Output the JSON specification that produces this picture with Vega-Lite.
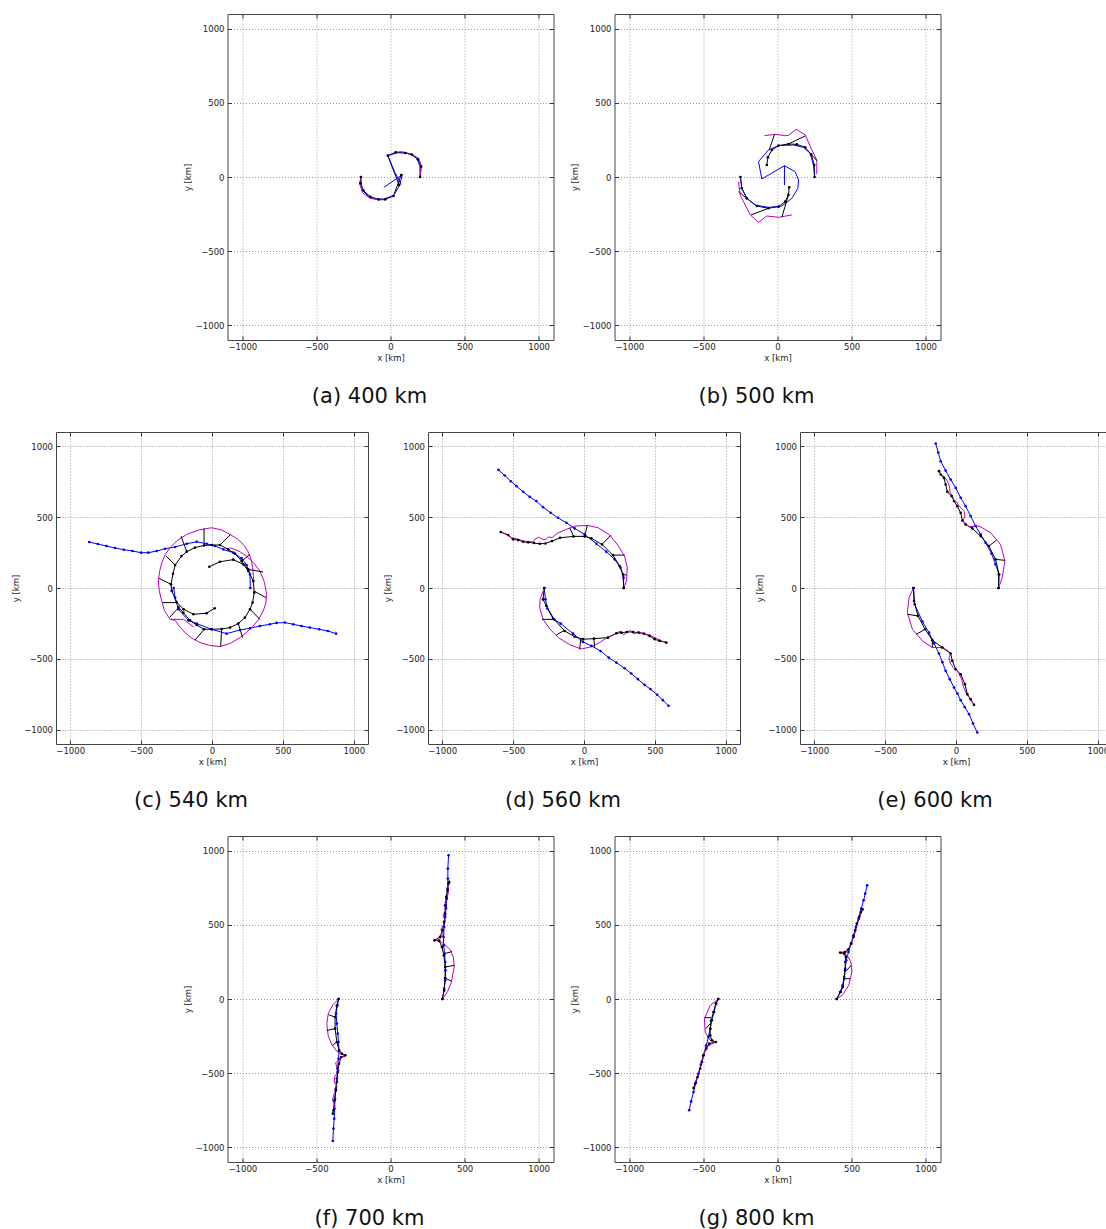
{
"$schema":"https://vega.github.io/schema/vega-lite/v6.json",
"background":"white",
"padding":{"left":11,"top":13,"right":0,"bottom":0},
"config":{
 "view":{"stroke":"#444","strokeWidth":1},
 "font":"DejaVu Sans",
 "axis":{"domain":false,"tickSize":-4,"tickColor":"#333","labelPadding":7.5,"labelFontSize":8.5,"titleFontSize":8.5,"titleFontWeight":"normal","gridColor":"#999","gridDash":[1,2],"gridWidth":1,"labelColor":"#222","titleColor":"#222","titlePadding":3,"labelFont":"DejaVu Sans","titleFont":"DejaVu Sans"},
 "title":{"fontSize":21,"fontWeight":"normal","font":"DejaVu Sans","color":"#111"}
},
"data":{"values":[
{"p":"a","k":"est","g":"a1","x":200,"y":0},{"p":"a","k":"est","g":"a1","x":207,"y":70},{"p":"a","k":"est","g":"a1","x":185,"y":119},{"p":"a","k":"est","g":"a1","x":144,"y":151},{"p":"a","k":"est","g":"a1","x":99,"y":162},{"p":"a","k":"est","g":"a1","x":36,"y":166},{"p":"a","k":"est","g":"a1","x":-18,"y":144},{"p":"a","k":"est","g":"a1","x":58,"y":-54},
{"p":"a","k":"est","g":"a2","x":-200,"y":0},{"p":"a","k":"est","g":"a2","x":-202,"y":-43},{"p":"a","k":"est","g":"a2","x":-182,"y":-92},{"p":"a","k":"est","g":"a2","x":-137,"y":-133},{"p":"a","k":"est","g":"a2","x":-81,"y":-151},{"p":"a","k":"est","g":"a2","x":-36,"y":-151},{"p":"a","k":"est","g":"a2","x":20,"y":-128},{"p":"a","k":"est","g":"a2","x":72,"y":13},
{"p":"a","k":"traj","g":"a3","x":200,"y":0},{"p":"a","k":"traj","g":"a3","x":198,"y":75},{"p":"a","k":"traj","g":"a3","x":180,"y":122},{"p":"a","k":"traj","g":"a3","x":140,"y":153},{"p":"a","k":"traj","g":"a3","x":90,"y":165},{"p":"a","k":"traj","g":"a3","x":40,"y":163},{"p":"a","k":"traj","g":"a3","x":-18,"y":144},{"p":"a","k":"traj","g":"a3","x":30,"y":30},{"p":"a","k":"traj","g":"a3","x":72,"y":-50},
{"p":"a","k":"traj","g":"a4","x":-200,"y":0},{"p":"a","k":"traj","g":"a4","x":-198,"y":-50},{"p":"a","k":"traj","g":"a4","x":-185,"y":-95},{"p":"a","k":"traj","g":"a4","x":-150,"y":-130},{"p":"a","k":"traj","g":"a4","x":-100,"y":-150},{"p":"a","k":"traj","g":"a4","x":-40,"y":-148},{"p":"a","k":"traj","g":"a4","x":20,"y":-125},{"p":"a","k":"traj","g":"a4","x":60,"y":-60},{"p":"a","k":"traj","g":"a4","x":80,"y":15},{"p":"a","k":"traj","g":"a4","x":-45,"y":-70},
{"p":"a","k":"env","g":"a5","x":200,"y":0},{"p":"a","k":"env","g":"a5","x":207,"y":81},{"p":"a","k":"env","g":"a5","x":189,"y":126},{"p":"a","k":"env","g":"a5","x":144,"y":155},{"p":"a","k":"env","g":"a5","x":76,"y":171},{"p":"a","k":"env","g":"a5","x":20,"y":166},
{"p":"a","k":"env","g":"a6","x":-200,"y":0},{"p":"a","k":"env","g":"a6","x":-209,"y":-43},{"p":"a","k":"env","g":"a6","x":-189,"y":-106},{"p":"a","k":"env","g":"a6","x":-137,"y":-144},{"p":"a","k":"env","g":"a6","x":-70,"y":-155},{"p":"a","k":"env","g":"a6","x":-25,"y":-151},

{"p":"b","k":"est","g":"b1","x":250,"y":0},{"p":"b","k":"est","g":"b1","x":248,"y":81},{"p":"b","k":"est","g":"b1","x":227,"y":153},{"p":"b","k":"est","g":"b1","x":187,"y":200},{"p":"b","k":"est","g":"b1","x":131,"y":220},{"p":"b","k":"est","g":"b1","x":74,"y":223},{"p":"b","k":"est","g":"b1","x":7,"y":212},{"p":"b","k":"est","g":"b1","x":-38,"y":182},{"p":"b","k":"est","g":"b1","x":-65,"y":133},{"p":"b","k":"est","g":"b1","x":-72,"y":81},
{"p":"b","k":"est","g":"b2","x":-250,"y":0},{"p":"b","k":"est","g":"b2","x":-241,"y":-76},{"p":"b","k":"est","g":"b2","x":-207,"y":-144},{"p":"b","k":"est","g":"b2","x":-139,"y":-196},{"p":"b","k":"est","g":"b2","x":-61,"y":-211},{"p":"b","k":"est","g":"b2","x":7,"y":-200},{"p":"b","k":"est","g":"b2","x":52,"y":-166},{"p":"b","k":"est","g":"b2","x":74,"y":-121},{"p":"b","k":"est","g":"b2","x":79,"y":-70},
{"p":"b","k":"traj","g":"b3","x":250,"y":0},{"p":"b","k":"traj","g":"b3","x":243,"y":81},{"p":"b","k":"traj","g":"b3","x":220,"y":160},{"p":"b","k":"traj","g":"b3","x":175,"y":200},{"p":"b","k":"traj","g":"b3","x":108,"y":216},{"p":"b","k":"traj","g":"b3","x":7,"y":212},{"p":"b","k":"traj","g":"b3","x":-61,"y":182},{"p":"b","k":"traj","g":"b3","x":-128,"y":104},{"p":"b","k":"traj","g":"b3","x":-106,"y":-13},{"p":"b","k":"traj","g":"b3","x":47,"y":76},{"p":"b","k":"traj","g":"b3","x":47,"y":-54},
{"p":"b","k":"traj","g":"b4","x":-250,"y":0},{"p":"b","k":"traj","g":"b4","x":-241,"y":-76},{"p":"b","k":"traj","g":"b4","x":-207,"y":-144},{"p":"b","k":"traj","g":"b4","x":-151,"y":-189},{"p":"b","k":"traj","g":"b4","x":-61,"y":-205},{"p":"b","k":"traj","g":"b4","x":29,"y":-196},{"p":"b","k":"traj","g":"b4","x":97,"y":-144},{"p":"b","k":"traj","g":"b4","x":137,"y":-77},{"p":"b","k":"traj","g":"b4","x":142,"y":-20},{"p":"b","k":"traj","g":"b4","x":119,"y":36},{"p":"b","k":"traj","g":"b4","x":47,"y":76},
{"p":"b","k":"env","g":"b5","x":-88,"y":279},{"p":"b","k":"env","g":"b5","x":-16,"y":288},{"p":"b","k":"env","g":"b5","x":52,"y":279},{"p":"b","k":"env","g":"b5","x":74,"y":281},{"p":"b","k":"env","g":"b5","x":126,"y":322},{"p":"b","k":"env","g":"b5","x":187,"y":284},{"p":"b","k":"env","g":"b5","x":232,"y":182},{"p":"b","k":"env","g":"b5","x":265,"y":115},{"p":"b","k":"env","g":"b5","x":265,"y":20},
{"p":"b","k":"env","g":"b6","x":-263,"y":-31},{"p":"b","k":"env","g":"b6","x":-252,"y":-122},{"p":"b","k":"env","g":"b6","x":-184,"y":-256},{"p":"b","k":"env","g":"b6","x":-128,"y":-306},{"p":"b","k":"env","g":"b6","x":-72,"y":-263},{"p":"b","k":"env","g":"b6","x":7,"y":-272},{"p":"b","k":"env","g":"b6","x":97,"y":-256},
{"p":"b","k":"link","g":"bw1","x":74,"y":223},{"p":"b","k":"link","g":"bw1","x":187,"y":277},
{"p":"b","k":"link","g":"bw2","x":-56,"y":182},{"p":"b","k":"link","g":"bw2","x":-20,"y":288},
{"p":"b","k":"link","g":"bw3","x":227,"y":153},{"p":"b","k":"link","g":"bw3","x":265,"y":110},
{"p":"b","k":"link","g":"bw4","x":-263,"y":-99},{"p":"b","k":"link","g":"bw4","x":-207,"y":-144},
{"p":"b","k":"link","g":"bw5","x":-178,"y":-256},{"p":"b","k":"link","g":"bw5","x":-61,"y":-211},
{"p":"b","k":"link","g":"bw6","x":29,"y":-272},{"p":"b","k":"link","g":"bw6","x":74,"y":-121},

{"p":"c","k":"traj","g":"c1","x":270,"y":0},{"p":"c","k":"traj","g":"c1","x":268,"y":96},{"p":"c","k":"traj","g":"c1","x":244,"y":162},{"p":"c","k":"traj","g":"c1","x":209,"y":209},{"p":"c","k":"traj","g":"c1","x":150,"y":249},{"p":"c","k":"traj","g":"c1","x":80,"y":272},{"p":"c","k":"traj","g":"c1","x":21,"y":296},{"p":"c","k":"traj","g":"c1","x":-38,"y":312},{"p":"c","k":"traj","g":"c1","x":-108,"y":326},{"p":"c","k":"traj","g":"c1","x":-178,"y":312},{"p":"c","k":"traj","g":"c1","x":-260,"y":289},{"p":"c","k":"traj","g":"c1","x":-331,"y":277},{"p":"c","k":"traj","g":"c1","x":-390,"y":261},{"p":"c","k":"traj","g":"c1","x":-448,"y":249},{"p":"c","k":"traj","g":"c1","x":-500,"y":249},{"p":"c","k":"traj","g":"c1","x":-561,"y":261},{"p":"c","k":"traj","g":"c1","x":-622,"y":270},{"p":"c","k":"traj","g":"c1","x":-683,"y":282},{"p":"c","k":"traj","g":"c1","x":-744,"y":296},{"p":"c","k":"traj","g":"c1","x":-805,"y":310},{"p":"c","k":"traj","g":"c1","x":-866,"y":324},
{"p":"c","k":"traj","g":"c2","x":-270,"y":0},{"p":"c","k":"traj","g":"c2","x":-260,"y":-68},{"p":"c","k":"traj","g":"c2","x":-237,"y":-150},{"p":"c","k":"traj","g":"c2","x":-167,"y":-228},{"p":"c","k":"traj","g":"c2","x":-108,"y":-251},{"p":"c","k":"traj","g":"c2","x":-2,"y":-291},{"p":"c","k":"traj","g":"c2","x":103,"y":-322},{"p":"c","k":"traj","g":"c2","x":197,"y":-296},{"p":"c","k":"traj","g":"c2","x":268,"y":-284},{"p":"c","k":"traj","g":"c2","x":338,"y":-268},{"p":"c","k":"traj","g":"c2","x":408,"y":-256},{"p":"c","k":"traj","g":"c2","x":455,"y":-246},{"p":"c","k":"traj","g":"c2","x":514,"y":-244},{"p":"c","k":"traj","g":"c2","x":573,"y":-256},{"p":"c","k":"traj","g":"c2","x":631,"y":-268},{"p":"c","k":"traj","g":"c2","x":690,"y":-279},{"p":"c","k":"traj","g":"c2","x":756,"y":-291},{"p":"c","k":"traj","g":"c2","x":817,"y":-303},{"p":"c","k":"traj","g":"c2","x":875,"y":-322},
{"p":"c","k":"est","g":"c3","x":-19,"y":150},{"p":"c","k":"est","g":"c3","x":56,"y":185},{"p":"c","k":"est","g":"c3","x":150,"y":200},{"p":"c","k":"est","g":"c3","x":221,"y":167},{"p":"c","k":"est","g":"c3","x":256,"y":120},{"p":"c","k":"est","g":"c3","x":291,"y":49},{"p":"c","k":"est","g":"c3","x":298,"y":-33},{"p":"c","k":"est","g":"c3","x":286,"y":-103},{"p":"c","k":"est","g":"c3","x":268,"y":-150},{"p":"c","k":"est","g":"c3","x":232,"y":-209},{"p":"c","k":"est","g":"c3","x":185,"y":-251},{"p":"c","k":"est","g":"c3","x":127,"y":-279},{"p":"c","k":"est","g":"c3","x":68,"y":-289},{"p":"c","k":"est","g":"c3","x":-2,"y":-291},{"p":"c","k":"est","g":"c3","x":-56,"y":-291},{"p":"c","k":"est","g":"c3","x":-108,"y":-261},{"p":"c","k":"est","g":"c3","x":-155,"y":-228},{"p":"c","k":"est","g":"c3","x":-202,"y":-174},{"p":"c","k":"est","g":"c3","x":-237,"y":-134},
{"p":"c","k":"est","g":"c4","x":19,"y":-143},{"p":"c","k":"est","g":"c4","x":-38,"y":-178},{"p":"c","k":"est","g":"c4","x":-131,"y":-185},{"p":"c","k":"est","g":"c4","x":-200,"y":-150},{"p":"c","k":"est","g":"c4","x":-250,"y":-100},{"p":"c","k":"est","g":"c4","x":-284,"y":-20},{"p":"c","k":"est","g":"c4","x":-289,"y":26},{"p":"c","k":"est","g":"c4","x":-275,"y":100},{"p":"c","k":"est","g":"c4","x":-260,"y":162},{"p":"c","k":"est","g":"c4","x":-215,"y":225},{"p":"c","k":"est","g":"c4","x":-178,"y":256},{"p":"c","k":"est","g":"c4","x":-120,"y":285},{"p":"c","k":"est","g":"c4","x":-56,"y":300},{"p":"c","k":"est","g":"c4","x":0,"y":303},{"p":"c","k":"est","g":"c4","x":56,"y":303},{"p":"c","k":"est","g":"c4","x":115,"y":272},{"p":"c","k":"est","g":"c4","x":162,"y":242},{"p":"c","k":"est","g":"c4","x":209,"y":190},{"p":"c","k":"est","g":"c4","x":256,"y":131},
{"p":"c","k":"env","g":"c5","x":-296,"y":-221},{"p":"c","k":"env","g":"c5","x":-335,"y":-160},{"p":"c","k":"env","g":"c5","x":-354,"y":-92},{"p":"c","k":"env","g":"c5","x":-372,"y":-20},{"p":"c","k":"env","g":"c5","x":-378,"y":49},{"p":"c","k":"env","g":"c5","x":-370,"y":115},{"p":"c","k":"env","g":"c5","x":-354,"y":178},{"p":"c","k":"env","g":"c5","x":-330,"y":235},{"p":"c","k":"env","g":"c5","x":-296,"y":284},{"p":"c","k":"env","g":"c5","x":-245,"y":335},{"p":"c","k":"env","g":"c5","x":-178,"y":378},{"p":"c","k":"env","g":"c5","x":-90,"y":410},{"p":"c","k":"env","g":"c5","x":-2,"y":425},{"p":"c","k":"env","g":"c5","x":65,"y":410},{"p":"c","k":"env","g":"c5","x":127,"y":378},{"p":"c","k":"env","g":"c5","x":180,"y":345},{"p":"c","k":"env","g":"c5","x":221,"y":307},{"p":"c","k":"env","g":"c5","x":250,"y":265},{"p":"c","k":"env","g":"c5","x":268,"y":225},{"p":"c","k":"env","g":"c5","x":280,"y":185},{"p":"c","k":"env","g":"c5","x":286,"y":143},{"p":"c","k":"env","g":"c5","x":292,"y":90},{"p":"c","k":"env","g":"c5","x":296,"y":38},
{"p":"c","k":"env","g":"c6","x":127,"y":284},{"p":"c","k":"env","g":"c6","x":190,"y":260},{"p":"c","k":"env","g":"c6","x":244,"y":225},{"p":"c","k":"env","g":"c6","x":295,"y":175},{"p":"c","k":"env","g":"c6","x":338,"y":120},{"p":"c","k":"env","g":"c6","x":370,"y":40},{"p":"c","k":"env","g":"c6","x":385,"y":-45},{"p":"c","k":"env","g":"c6","x":380,"y":-105},{"p":"c","k":"env","g":"c6","x":361,"y":-162},{"p":"c","k":"env","g":"c6","x":330,"y":-220},{"p":"c","k":"env","g":"c6","x":291,"y":-268},{"p":"c","k":"env","g":"c6","x":245,"y":-312},{"p":"c","k":"env","g":"c6","x":197,"y":-350},{"p":"c","k":"env","g":"c6","x":130,"y":-390},{"p":"c","k":"env","g":"c6","x":56,"y":-413},{"p":"c","k":"env","g":"c6","x":-15,"y":-405},{"p":"c","k":"env","g":"c6","x":-84,"y":-385},{"p":"c","k":"env","g":"c6","x":-140,"y":-355},{"p":"c","k":"env","g":"c6","x":-190,"y":-315},{"p":"c","k":"env","g":"c6","x":-230,"y":-270},{"p":"c","k":"env","g":"c6","x":-260,"y":-228},{"p":"c","k":"env","g":"c6","x":-296,"y":-221},{"p":"c","k":"env","g":"c6","x":-200,"y":-221},{"p":"c","k":"env","g":"c6","x":-130,"y":-275},
{"p":"c","k":"link","g":"cw1","x":-56,"y":420},{"p":"c","k":"link","g":"cw1","x":-56,"y":300},
{"p":"c","k":"link","g":"cw2","x":131,"y":378},{"p":"c","k":"link","g":"cw2","x":56,"y":303},
{"p":"c","k":"link","g":"cw3","x":-218,"y":366},{"p":"c","k":"link","g":"cw3","x":-178,"y":256},
{"p":"c","k":"link","g":"cw4","x":-324,"y":225},{"p":"c","k":"link","g":"cw4","x":-260,"y":162},
{"p":"c","k":"link","g":"cw5","x":-373,"y":68},{"p":"c","k":"link","g":"cw5","x":-289,"y":26},
{"p":"c","k":"link","g":"cw6","x":-347,"y":-103},{"p":"c","k":"link","g":"cw6","x":-244,"y":-103},
{"p":"c","k":"link","g":"cw7","x":-296,"y":-204},{"p":"c","k":"link","g":"cw7","x":-232,"y":-134},
{"p":"c","k":"link","g":"cw8","x":-120,"y":-368},{"p":"c","k":"link","g":"cw8","x":-56,"y":-291},
{"p":"c","k":"link","g":"cw9","x":61,"y":-413},{"p":"c","k":"link","g":"cw9","x":68,"y":-289},
{"p":"c","k":"link","g":"cw10","x":216,"y":-350},{"p":"c","k":"link","g":"cw10","x":185,"y":-251},
{"p":"c","k":"link","g":"cw11","x":338,"y":-221},{"p":"c","k":"link","g":"cw11","x":268,"y":-150},
{"p":"c","k":"link","g":"cw12","x":380,"y":-68},{"p":"c","k":"link","g":"cw12","x":296,"y":-21},
{"p":"c","k":"link","g":"cw13","x":361,"y":113},{"p":"c","k":"link","g":"cw13","x":256,"y":131},
{"p":"c","k":"link","g":"cw14","x":268,"y":237},{"p":"c","k":"link","g":"cw14","x":209,"y":190},

{"p":"d","k":"traj","g":"d1","x":280,"y":0},{"p":"d","k":"traj","g":"d1","x":279,"y":73},{"p":"d","k":"traj","g":"d1","x":258,"y":143},{"p":"d","k":"traj","g":"d1","x":216,"y":202},{"p":"d","k":"traj","g":"d1","x":157,"y":256},{"p":"d","k":"traj","g":"d1","x":87,"y":312},{"p":"d","k":"traj","g":"d1","x":5,"y":378},{"p":"d","k":"traj","g":"d1","x":-66,"y":420},{"p":"d","k":"traj","g":"d1","x":-124,"y":460},{"p":"d","k":"traj","g":"d1","x":-183,"y":495},{"p":"d","k":"traj","g":"d1","x":-235,"y":530},{"p":"d","k":"traj","g":"d1","x":-289,"y":570},{"p":"d","k":"traj","g":"d1","x":-336,"y":613},{"p":"d","k":"traj","g":"d1","x":-383,"y":643},{"p":"d","k":"traj","g":"d1","x":-429,"y":678},{"p":"d","k":"traj","g":"d1","x":-476,"y":718},{"p":"d","k":"traj","g":"d1","x":-516,"y":753},{"p":"d","k":"traj","g":"d1","x":-559,"y":793},{"p":"d","k":"traj","g":"d1","x":-603,"y":833},
{"p":"d","k":"traj","g":"d2","x":-280,"y":0},{"p":"d","k":"traj","g":"d2","x":-272,"y":-80},{"p":"d","k":"traj","g":"d2","x":-258,"y":-146},{"p":"d","k":"traj","g":"d2","x":-218,"y":-216},{"p":"d","k":"traj","g":"d2","x":-164,"y":-251},{"p":"d","k":"traj","g":"d2","x":-77,"y":-322},{"p":"d","k":"traj","g":"d2","x":-7,"y":-380},{"p":"d","k":"traj","g":"d2","x":52,"y":-408},{"p":"d","k":"traj","g":"d2","x":117,"y":-444},{"p":"d","k":"traj","g":"d2","x":174,"y":-491},{"p":"d","k":"traj","g":"d2","x":228,"y":-526},{"p":"d","k":"traj","g":"d2","x":286,"y":-566},{"p":"d","k":"traj","g":"d2","x":333,"y":-603},{"p":"d","k":"traj","g":"d2","x":380,"y":-643},{"p":"d","k":"traj","g":"d2","x":427,"y":-683},{"p":"d","k":"traj","g":"d2","x":469,"y":-713},{"p":"d","k":"traj","g":"d2","x":516,"y":-753},{"p":"d","k":"traj","g":"d2","x":556,"y":-791},{"p":"d","k":"traj","g":"d2","x":596,"y":-831},
{"p":"d","k":"est","g":"d3","x":280,"y":0},{"p":"d","k":"est","g":"d3","x":275,"y":96},{"p":"d","k":"est","g":"d3","x":251,"y":155},{"p":"d","k":"est","g":"d3","x":204,"y":232},{"p":"d","k":"est","g":"d3","x":127,"y":307},{"p":"d","k":"est","g":"d3","x":52,"y":350},{"p":"d","k":"est","g":"d3","x":5,"y":364},{"p":"d","k":"est","g":"d3","x":-73,"y":364},{"p":"d","k":"est","g":"d3","x":-169,"y":354},{"p":"d","k":"est","g":"d3","x":-225,"y":331},{"p":"d","k":"est","g":"d3","x":-272,"y":314},{"p":"d","k":"est","g":"d3","x":-312,"y":312},{"p":"d","k":"est","g":"d3","x":-352,"y":317},{"p":"d","k":"est","g":"d3","x":-394,"y":322},{"p":"d","k":"est","g":"d3","x":-429,"y":326},{"p":"d","k":"est","g":"d3","x":-465,"y":338},{"p":"d","k":"est","g":"d3","x":-500,"y":343},{"p":"d","k":"est","g":"d3","x":-535,"y":373},{"p":"d","k":"est","g":"d3","x":-587,"y":394},
{"p":"d","k":"est","g":"d4","x":-280,"y":0},{"p":"d","k":"est","g":"d4","x":-289,"y":-80},{"p":"d","k":"est","g":"d4","x":-265,"y":-127},{"p":"d","k":"est","g":"d4","x":-211,"y":-221},{"p":"d","k":"est","g":"d4","x":-136,"y":-303},{"p":"d","k":"est","g":"d4","x":-66,"y":-343},{"p":"d","k":"est","g":"d4","x":-7,"y":-361},{"p":"d","k":"est","g":"d4","x":70,"y":-357},{"p":"d","k":"est","g":"d4","x":169,"y":-350},{"p":"d","k":"est","g":"d4","x":228,"y":-319},{"p":"d","k":"est","g":"d4","x":263,"y":-315},{"p":"d","k":"est","g":"d4","x":303,"y":-310},{"p":"d","k":"est","g":"d4","x":345,"y":-310},{"p":"d","k":"est","g":"d4","x":385,"y":-315},{"p":"d","k":"est","g":"d4","x":422,"y":-322},{"p":"d","k":"est","g":"d4","x":462,"y":-338},{"p":"d","k":"est","g":"d4","x":498,"y":-361},{"p":"d","k":"est","g":"d4","x":533,"y":-373},{"p":"d","k":"est","g":"d4","x":580,"y":-385},
{"p":"d","k":"env","g":"d5","x":280,"y":0},{"p":"d","k":"env","g":"d5","x":300,"y":50},{"p":"d","k":"env","g":"d5","x":305,"y":143},{"p":"d","k":"env","g":"d5","x":286,"y":225},{"p":"d","k":"env","g":"d5","x":240,"y":300},{"p":"d","k":"env","g":"d5","x":180,"y":375},{"p":"d","k":"env","g":"d5","x":100,"y":425},{"p":"d","k":"env","g":"d5","x":28,"y":441},{"p":"d","k":"env","g":"d5","x":-60,"y":437},{"p":"d","k":"env","g":"d5","x":-130,"y":412},{"p":"d","k":"env","g":"d5","x":-190,"y":385},{"p":"d","k":"env","g":"d5","x":-225,"y":355},{"p":"d","k":"env","g":"d5","x":-250,"y":360},{"p":"d","k":"env","g":"d5","x":-272,"y":340},{"p":"d","k":"env","g":"d5","x":-295,"y":345},{"p":"d","k":"env","g":"d5","x":-320,"y":358},{"p":"d","k":"env","g":"d5","x":-345,"y":345},{"p":"d","k":"env","g":"d5","x":-360,"y":325},{"p":"d","k":"env","g":"d5","x":-420,"y":330},{"p":"d","k":"env","g":"d5","x":-470,"y":345},{"p":"d","k":"env","g":"d5","x":-510,"y":355},{"p":"d","k":"env","g":"d5","x":-545,"y":380},{"p":"d","k":"env","g":"d5","x":-590,"y":397},
{"p":"d","k":"env","g":"d6","x":-280,"y":0},{"p":"d","k":"env","g":"d6","x":-310,"y":-80},{"p":"d","k":"env","g":"d6","x":-312,"y":-140},{"p":"d","k":"env","g":"d6","x":-289,"y":-221},{"p":"d","k":"env","g":"d6","x":-240,"y":-290},{"p":"d","k":"env","g":"d6","x":-180,"y":-350},{"p":"d","k":"env","g":"d6","x":-100,"y":-400},{"p":"d","k":"env","g":"d6","x":-20,"y":-430},{"p":"d","k":"env","g":"d6","x":50,"y":-415},{"p":"d","k":"env","g":"d6","x":110,"y":-385},{"p":"d","k":"env","g":"d6","x":170,"y":-345},{"p":"d","k":"env","g":"d6","x":210,"y":-330},{"p":"d","k":"env","g":"d6","x":235,"y":-315},{"p":"d","k":"env","g":"d6","x":255,"y":-305},{"p":"d","k":"env","g":"d6","x":280,"y":-330},{"p":"d","k":"env","g":"d6","x":305,"y":-310},{"p":"d","k":"env","g":"d6","x":330,"y":-300},{"p":"d","k":"env","g":"d6","x":355,"y":-325},{"p":"d","k":"env","g":"d6","x":380,"y":-310},{"p":"d","k":"env","g":"d6","x":420,"y":-320},{"p":"d","k":"env","g":"d6","x":470,"y":-335},{"p":"d","k":"env","g":"d6","x":510,"y":-355},{"p":"d","k":"env","g":"d6","x":545,"y":-372},{"p":"d","k":"env","g":"d6","x":590,"y":-387},
{"p":"d","k":"link","g":"dw1","x":-101,"y":425},{"p":"d","k":"link","g":"dw1","x":-73,"y":364},
{"p":"d","k":"link","g":"dw2","x":23,"y":441},{"p":"d","k":"link","g":"dw2","x":5,"y":364},
{"p":"d","k":"link","g":"dw3","x":188,"y":371},{"p":"d","k":"link","g":"dw3","x":127,"y":307},
{"p":"d","k":"link","g":"dw4","x":286,"y":232},{"p":"d","k":"link","g":"dw4","x":204,"y":232},
{"p":"d","k":"link","g":"dw5","x":300,"y":90},{"p":"d","k":"link","g":"dw5","x":275,"y":96},
{"p":"d","k":"link","g":"dw6","x":-31,"y":-432},{"p":"d","k":"link","g":"dw6","x":-23,"y":-361},
{"p":"d","k":"link","g":"dw7","x":-195,"y":-331},{"p":"d","k":"link","g":"dw7","x":-136,"y":-298},
{"p":"d","k":"link","g":"dw8","x":-296,"y":-221},{"p":"d","k":"link","g":"dw8","x":-211,"y":-221},
{"p":"d","k":"link","g":"dw9","x":75,"y":-420},{"p":"d","k":"link","g":"dw9","x":70,"y":-357},

{"p":"e","k":"traj","g":"e1","x":300,"y":0},{"p":"e","k":"traj","g":"e1","x":303,"y":96},{"p":"e","k":"traj","g":"e1","x":279,"y":167},{"p":"e","k":"traj","g":"e1","x":251,"y":242},{"p":"e","k":"traj","g":"e1","x":209,"y":319},{"p":"e","k":"traj","g":"e1","x":174,"y":378},{"p":"e","k":"traj","g":"e1","x":138,"y":437},{"p":"e","k":"traj","g":"e1","x":103,"y":507},{"p":"e","k":"traj","g":"e1","x":68,"y":577},{"p":"e","k":"traj","g":"e1","x":33,"y":636},{"p":"e","k":"traj","g":"e1","x":-2,"y":706},{"p":"e","k":"traj","g":"e1","x":-38,"y":765},{"p":"e","k":"traj","g":"e1","x":-73,"y":828},{"p":"e","k":"traj","g":"e1","x":-108,"y":894},{"p":"e","k":"traj","g":"e1","x":-125,"y":955},{"p":"e","k":"traj","g":"e1","x":-143,"y":1019},
{"p":"e","k":"traj","g":"e2","x":-300,"y":0},{"p":"e","k":"traj","g":"e2","x":-291,"y":-115},{"p":"e","k":"traj","g":"e2","x":-237,"y":-237},{"p":"e","k":"traj","g":"e2","x":-190,"y":-315},{"p":"e","k":"traj","g":"e2","x":-155,"y":-390},{"p":"e","k":"traj","g":"e2","x":-120,"y":-462},{"p":"e","k":"traj","g":"e2","x":-96,"y":-523},{"p":"e","k":"traj","g":"e2","x":-73,"y":-584},{"p":"e","k":"traj","g":"e2","x":-44,"y":-643},{"p":"e","k":"traj","g":"e2","x":-14,"y":-702},{"p":"e","k":"traj","g":"e2","x":10,"y":-745},{"p":"e","k":"traj","g":"e2","x":33,"y":-791},{"p":"e","k":"traj","g":"e2","x":62,"y":-840},{"p":"e","k":"traj","g":"e2","x":92,"y":-890},{"p":"e","k":"traj","g":"e2","x":120,"y":-955},{"p":"e","k":"traj","g":"e2","x":150,"y":-1019},
{"p":"e","k":"est","g":"e3","x":300,"y":0},{"p":"e","k":"est","g":"e3","x":303,"y":96},{"p":"e","k":"est","g":"e3","x":279,"y":202},{"p":"e","k":"est","g":"e3","x":232,"y":296},{"p":"e","k":"est","g":"e3","x":174,"y":366},{"p":"e","k":"est","g":"e3","x":115,"y":420},{"p":"e","k":"est","g":"e3","x":68,"y":448},{"p":"e","k":"est","g":"e3","x":45,"y":476},{"p":"e","k":"est","g":"e3","x":33,"y":530},{"p":"e","k":"est","g":"e3","x":9,"y":577},{"p":"e","k":"est","g":"e3","x":-14,"y":613},{"p":"e","k":"est","g":"e3","x":-31,"y":648},{"p":"e","k":"est","g":"e3","x":-61,"y":678},{"p":"e","k":"est","g":"e3","x":-73,"y":730},{"p":"e","k":"est","g":"e3","x":-85,"y":777},{"p":"e","k":"est","g":"e3","x":-108,"y":800},{"p":"e","k":"est","g":"e3","x":-120,"y":824},
{"p":"e","k":"est","g":"e4","x":-300,"y":0},{"p":"e","k":"est","g":"e4","x":-296,"y":-92},{"p":"e","k":"est","g":"e4","x":-268,"y":-197},{"p":"e","k":"est","g":"e4","x":-218,"y":-291},{"p":"e","k":"est","g":"e4","x":-167,"y":-368},{"p":"e","k":"est","g":"e4","x":-96,"y":-420},{"p":"e","k":"est","g":"e4","x":-38,"y":-462},{"p":"e","k":"est","g":"e4","x":-26,"y":-514},{"p":"e","k":"est","g":"e4","x":-2,"y":-573},{"p":"e","k":"est","g":"e4","x":33,"y":-608},{"p":"e","k":"est","g":"e4","x":63,"y":-678},{"p":"e","k":"est","g":"e4","x":80,"y":-749},{"p":"e","k":"est","g":"e4","x":103,"y":-784},{"p":"e","k":"est","g":"e4","x":127,"y":-824},
{"p":"e","k":"env","g":"e5","x":300,"y":0},{"p":"e","k":"env","g":"e5","x":326,"y":73},{"p":"e","k":"env","g":"e5","x":345,"y":190},{"p":"e","k":"env","g":"e5","x":314,"y":307},{"p":"e","k":"env","g":"e5","x":244,"y":390},{"p":"e","k":"env","g":"e5","x":162,"y":437},{"p":"e","k":"env","g":"e5","x":92,"y":432},{"p":"e","k":"env","g":"e5","x":45,"y":476},{"p":"e","k":"env","g":"e5","x":62,"y":500},{"p":"e","k":"env","g":"e5","x":60,"y":540},{"p":"e","k":"env","g":"e5","x":40,"y":560},{"p":"e","k":"env","g":"e5","x":20,"y":580},{"p":"e","k":"env","g":"e5","x":5,"y":605},{"p":"e","k":"env","g":"e5","x":-14,"y":615},{"p":"e","k":"env","g":"e5","x":-25,"y":650},{"p":"e","k":"env","g":"e5","x":-40,"y":670},{"p":"e","k":"env","g":"e5","x":-45,"y":700},{"p":"e","k":"env","g":"e5","x":-50,"y":730},{"p":"e","k":"env","g":"e5","x":-65,"y":760},{"p":"e","k":"env","g":"e5","x":-85,"y":785},{"p":"e","k":"env","g":"e5","x":-108,"y":805},{"p":"e","k":"env","g":"e5","x":-120,"y":824},
{"p":"e","k":"env","g":"e6","x":-300,"y":0},{"p":"e","k":"env","g":"e6","x":-331,"y":-68},{"p":"e","k":"env","g":"e6","x":-343,"y":-174},{"p":"e","k":"env","g":"e6","x":-307,"y":-291},{"p":"e","k":"env","g":"e6","x":-237,"y":-373},{"p":"e","k":"env","g":"e6","x":-167,"y":-420},{"p":"e","k":"env","g":"e6","x":-96,"y":-420},{"p":"e","k":"env","g":"e6","x":-60,"y":-440},{"p":"e","k":"env","g":"e6","x":-38,"y":-462},{"p":"e","k":"env","g":"e6","x":-50,"y":-490},{"p":"e","k":"env","g":"e6","x":-40,"y":-530},{"p":"e","k":"env","g":"e6","x":-20,"y":-560},{"p":"e","k":"env","g":"e6","x":0,"y":-580},{"p":"e","k":"env","g":"e6","x":20,"y":-600},{"p":"e","k":"env","g":"e6","x":33,"y":-630},{"p":"e","k":"env","g":"e6","x":45,"y":-660},{"p":"e","k":"env","g":"e6","x":50,"y":-690},{"p":"e","k":"env","g":"e6","x":63,"y":-720},{"p":"e","k":"env","g":"e6","x":75,"y":-750},{"p":"e","k":"env","g":"e6","x":95,"y":-775},{"p":"e","k":"env","g":"e6","x":110,"y":-800},{"p":"e","k":"env","g":"e6","x":127,"y":-824},
{"p":"e","k":"link","g":"ew1","x":284,"y":336},{"p":"e","k":"link","g":"ew1","x":232,"y":296},
{"p":"e","k":"link","g":"ew2","x":345,"y":195},{"p":"e","k":"link","g":"ew2","x":279,"y":202},
{"p":"e","k":"link","g":"ew3","x":-343,"y":-185},{"p":"e","k":"link","g":"ew3","x":-268,"y":-197},
{"p":"e","k":"link","g":"ew4","x":-279,"y":-326},{"p":"e","k":"link","g":"ew4","x":-218,"y":-291},
{"p":"e","k":"link","g":"ew5","x":-167,"y":-420},{"p":"e","k":"link","g":"ew5","x":-167,"y":-368},

{"p":"f","k":"traj","g":"f1","x":350,"y":0},{"p":"f","k":"traj","g":"f1","x":362,"y":70},{"p":"f","k":"traj","g":"f1","x":369,"y":126},{"p":"f","k":"traj","g":"f1","x":371,"y":194},{"p":"f","k":"traj","g":"f1","x":369,"y":250},{"p":"f","k":"traj","g":"f1","x":365,"y":306},{"p":"f","k":"traj","g":"f1","x":358,"y":362},{"p":"f","k":"traj","g":"f1","x":358,"y":419},{"p":"f","k":"traj","g":"f1","x":362,"y":486},{"p":"f","k":"traj","g":"f1","x":369,"y":554},{"p":"f","k":"traj","g":"f1","x":374,"y":610},{"p":"f","k":"traj","g":"f1","x":380,"y":677},{"p":"f","k":"traj","g":"f1","x":385,"y":745},{"p":"f","k":"traj","g":"f1","x":387,"y":812},{"p":"f","k":"traj","g":"f1","x":387,"y":880},{"p":"f","k":"traj","g":"f1","x":392,"y":970},
{"p":"f","k":"traj","g":"f2","x":-350,"y":0},{"p":"f","k":"traj","g":"f2","x":-358,"y":-43},{"p":"f","k":"traj","g":"f2","x":-367,"y":-99},{"p":"f","k":"traj","g":"f2","x":-362,"y":-166},{"p":"f","k":"traj","g":"f2","x":-356,"y":-234},{"p":"f","k":"traj","g":"f2","x":-351,"y":-290},{"p":"f","k":"traj","g":"f2","x":-347,"y":-347},{"p":"f","k":"traj","g":"f2","x":-351,"y":-403},{"p":"f","k":"traj","g":"f2","x":-358,"y":-470},{"p":"f","k":"traj","g":"f2","x":-362,"y":-538},{"p":"f","k":"traj","g":"f2","x":-369,"y":-605},{"p":"f","k":"traj","g":"f2","x":-374,"y":-673},{"p":"f","k":"traj","g":"f2","x":-378,"y":-740},{"p":"f","k":"traj","g":"f2","x":-380,"y":-808},{"p":"f","k":"traj","g":"f2","x":-385,"y":-875},{"p":"f","k":"traj","g":"f2","x":-389,"y":-958},
{"p":"f","k":"est","g":"f3","x":350,"y":0},{"p":"f","k":"est","g":"f3","x":362,"y":58},{"p":"f","k":"est","g":"f3","x":369,"y":142},{"p":"f","k":"est","g":"f3","x":369,"y":216},{"p":"f","k":"est","g":"f3","x":360,"y":295},{"p":"f","k":"est","g":"f3","x":347,"y":351},{"p":"f","k":"est","g":"f3","x":329,"y":392},{"p":"f","k":"est","g":"f3","x":297,"y":396},{"p":"f","k":"est","g":"f3","x":335,"y":419},{"p":"f","k":"est","g":"f3","x":351,"y":464},{"p":"f","k":"est","g":"f3","x":362,"y":520},{"p":"f","k":"est","g":"f3","x":369,"y":576},{"p":"f","k":"est","g":"f3","x":369,"y":632},{"p":"f","k":"est","g":"f3","x":376,"y":689},{"p":"f","k":"est","g":"f3","x":385,"y":734},{"p":"f","k":"est","g":"f3","x":392,"y":779},{"p":"f","k":"est","g":"f3","x":396,"y":790},
{"p":"f","k":"est","g":"f4","x":-350,"y":0},{"p":"f","k":"est","g":"f4","x":-362,"y":-43},{"p":"f","k":"est","g":"f4","x":-374,"y":-122},{"p":"f","k":"est","g":"f4","x":-374,"y":-200},{"p":"f","k":"est","g":"f4","x":-362,"y":-290},{"p":"f","k":"est","g":"f4","x":-347,"y":-347},{"p":"f","k":"est","g":"f4","x":-329,"y":-369},{"p":"f","k":"est","g":"f4","x":-306,"y":-380},{"p":"f","k":"est","g":"f4","x":-333,"y":-392},{"p":"f","k":"est","g":"f4","x":-347,"y":-437},{"p":"f","k":"est","g":"f4","x":-356,"y":-493},{"p":"f","k":"est","g":"f4","x":-362,"y":-560},{"p":"f","k":"est","g":"f4","x":-369,"y":-617},{"p":"f","k":"est","g":"f4","x":-378,"y":-684},{"p":"f","k":"est","g":"f4","x":-385,"y":-751},{"p":"f","k":"est","g":"f4","x":-389,"y":-774},
{"p":"f","k":"env","g":"f5","x":350,"y":0},{"p":"f","k":"env","g":"f5","x":385,"y":50},{"p":"f","k":"env","g":"f5","x":410,"y":110},{"p":"f","k":"env","g":"f5","x":430,"y":216},{"p":"f","k":"env","g":"f5","x":425,"y":280},{"p":"f","k":"env","g":"f5","x":405,"y":330},{"p":"f","k":"env","g":"f5","x":370,"y":365},{"p":"f","k":"env","g":"f5","x":330,"y":390},{"p":"f","k":"env","g":"f5","x":297,"y":396},{"p":"f","k":"env","g":"f5","x":330,"y":400},{"p":"f","k":"env","g":"f5","x":355,"y":440},{"p":"f","k":"env","g":"f5","x":340,"y":470},{"p":"f","k":"env","g":"f5","x":358,"y":500},{"p":"f","k":"env","g":"f5","x":370,"y":530},{"p":"f","k":"env","g":"f5","x":355,"y":560},{"p":"f","k":"env","g":"f5","x":370,"y":600},{"p":"f","k":"env","g":"f5","x":380,"y":620},{"p":"f","k":"env","g":"f5","x":368,"y":650},{"p":"f","k":"env","g":"f5","x":383,"y":690},{"p":"f","k":"env","g":"f5","x":392,"y":720},{"p":"f","k":"env","g":"f5","x":385,"y":750},{"p":"f","k":"env","g":"f5","x":396,"y":790},
{"p":"f","k":"env","g":"f6","x":-350,"y":0},{"p":"f","k":"env","g":"f6","x":-390,"y":-40},{"p":"f","k":"env","g":"f6","x":-420,"y":-100},{"p":"f","k":"env","g":"f6","x":-430,"y":-166},{"p":"f","k":"env","g":"f6","x":-420,"y":-250},{"p":"f","k":"env","g":"f6","x":-395,"y":-310},{"p":"f","k":"env","g":"f6","x":-360,"y":-355},{"p":"f","k":"env","g":"f6","x":-329,"y":-369},{"p":"f","k":"env","g":"f6","x":-295,"y":-380},{"p":"f","k":"env","g":"f6","x":-330,"y":-395},{"p":"f","k":"env","g":"f6","x":-370,"y":-430},{"p":"f","k":"env","g":"f6","x":-360,"y":-470},{"p":"f","k":"env","g":"f6","x":-345,"y":-480},{"p":"f","k":"env","g":"f6","x":-375,"y":-520},{"p":"f","k":"env","g":"f6","x":-380,"y":-560},{"p":"f","k":"env","g":"f6","x":-360,"y":-590},{"p":"f","k":"env","g":"f6","x":-380,"y":-640},{"p":"f","k":"env","g":"f6","x":-392,"y":-680},{"p":"f","k":"env","g":"f6","x":-375,"y":-720},{"p":"f","k":"env","g":"f6","x":-385,"y":-760},{"p":"f","k":"env","g":"f6","x":-389,"y":-774},
{"p":"f","k":"link","g":"fw1","x":365,"y":306},{"p":"f","k":"link","g":"fw1","x":414,"y":320},
{"p":"f","k":"link","g":"fw2","x":369,"y":216},{"p":"f","k":"link","g":"fw2","x":430,"y":227},
{"p":"f","k":"link","g":"fw3","x":369,"y":142},{"p":"f","k":"link","g":"fw3","x":412,"y":119},
{"p":"f","k":"link","g":"fw4","x":-374,"y":-122},{"p":"f","k":"link","g":"fw4","x":-418,"y":-106},
{"p":"f","k":"link","g":"fw5","x":-374,"y":-200},{"p":"f","k":"link","g":"fw5","x":-430,"y":-212},
{"p":"f","k":"link","g":"fw6","x":-362,"y":-290},{"p":"f","k":"link","g":"fw6","x":-391,"y":-313},

{"p":"g","k":"traj","g":"g1","x":400,"y":0},{"p":"g","k":"traj","g":"g1","x":423,"y":47},{"p":"g","k":"traj","g":"g1","x":439,"y":92},{"p":"g","k":"traj","g":"g1","x":450,"y":149},{"p":"g","k":"traj","g":"g1","x":457,"y":205},{"p":"g","k":"traj","g":"g1","x":464,"y":261},{"p":"g","k":"traj","g":"g1","x":479,"y":317},{"p":"g","k":"traj","g":"g1","x":497,"y":374},{"p":"g","k":"traj","g":"g1","x":513,"y":430},{"p":"g","k":"traj","g":"g1","x":529,"y":486},{"p":"g","k":"traj","g":"g1","x":547,"y":542},{"p":"g","k":"traj","g":"g1","x":565,"y":610},{"p":"g","k":"traj","g":"g1","x":581,"y":666},{"p":"g","k":"traj","g":"g1","x":592,"y":711},{"p":"g","k":"traj","g":"g1","x":605,"y":767},
{"p":"g","k":"traj","g":"g2","x":-400,"y":0},{"p":"g","k":"traj","g":"g2","x":-414,"y":-31},{"p":"g","k":"traj","g":"g2","x":-428,"y":-88},{"p":"g","k":"traj","g":"g2","x":-443,"y":-144},{"p":"g","k":"traj","g":"g2","x":-454,"y":-200},{"p":"g","k":"traj","g":"g2","x":-466,"y":-256},{"p":"g","k":"traj","g":"g2","x":-481,"y":-313},{"p":"g","k":"traj","g":"g2","x":-500,"y":-380},{"p":"g","k":"traj","g":"g2","x":-517,"y":-443},{"p":"g","k":"traj","g":"g2","x":-533,"y":-504},{"p":"g","k":"traj","g":"g2","x":-551,"y":-565},{"p":"g","k":"traj","g":"g2","x":-567,"y":-628},{"p":"g","k":"traj","g":"g2","x":-583,"y":-691},{"p":"g","k":"traj","g":"g2","x":-596,"y":-751},
{"p":"g","k":"est","g":"g3","x":400,"y":0},{"p":"g","k":"est","g":"g3","x":425,"y":47},{"p":"g","k":"est","g":"g3","x":441,"y":81},{"p":"g","k":"est","g":"g3","x":450,"y":137},{"p":"g","k":"est","g":"g3","x":457,"y":194},{"p":"g","k":"est","g":"g3","x":457,"y":250},{"p":"g","k":"est","g":"g3","x":461,"y":284},{"p":"g","k":"est","g":"g3","x":450,"y":306},{"p":"g","k":"est","g":"g3","x":423,"y":313},{"p":"g","k":"est","g":"g3","x":457,"y":317},{"p":"g","k":"est","g":"g3","x":479,"y":335},{"p":"g","k":"est","g":"g3","x":497,"y":374},{"p":"g","k":"est","g":"g3","x":513,"y":419},{"p":"g","k":"est","g":"g3","x":524,"y":464},{"p":"g","k":"est","g":"g3","x":535,"y":509},{"p":"g","k":"est","g":"g3","x":551,"y":554},{"p":"g","k":"est","g":"g3","x":562,"y":587},{"p":"g","k":"est","g":"g3","x":574,"y":605},
{"p":"g","k":"est","g":"g4","x":-400,"y":0},{"p":"g","k":"est","g":"g4","x":-416,"y":-31},{"p":"g","k":"est","g":"g4","x":-432,"y":-88},{"p":"g","k":"est","g":"g4","x":-448,"y":-144},{"p":"g","k":"est","g":"g4","x":-454,"y":-200},{"p":"g","k":"est","g":"g4","x":-454,"y":-245},{"p":"g","k":"est","g":"g4","x":-443,"y":-279},{"p":"g","k":"est","g":"g4","x":-416,"y":-290},{"p":"g","k":"est","g":"g4","x":-461,"y":-301},{"p":"g","k":"est","g":"g4","x":-481,"y":-335},{"p":"g","k":"est","g":"g4","x":-500,"y":-380},{"p":"g","k":"est","g":"g4","x":-511,"y":-425},{"p":"g","k":"est","g":"g4","x":-522,"y":-470},{"p":"g","k":"est","g":"g4","x":-540,"y":-527},{"p":"g","k":"est","g":"g4","x":-556,"y":-572},{"p":"g","k":"est","g":"g4","x":-567,"y":-601},
{"p":"g","k":"env","g":"g5","x":400,"y":0},{"p":"g","k":"env","g":"g5","x":440,"y":30},{"p":"g","k":"env","g":"g5","x":480,"y":90},{"p":"g","k":"env","g":"g5","x":502,"y":182},{"p":"g","k":"env","g":"g5","x":495,"y":250},{"p":"g","k":"env","g":"g5","x":470,"y":295},{"p":"g","k":"env","g":"g5","x":423,"y":313},{"p":"g","k":"env","g":"g5","x":460,"y":320},{"p":"g","k":"env","g":"g5","x":485,"y":345},{"p":"g","k":"env","g":"g5","x":495,"y":380},{"p":"g","k":"env","g":"g5","x":515,"y":420},{"p":"g","k":"env","g":"g5","x":530,"y":470},{"p":"g","k":"env","g":"g5","x":540,"y":510},{"p":"g","k":"env","g":"g5","x":555,"y":550},{"p":"g","k":"env","g":"g5","x":574,"y":605},
{"p":"g","k":"env","g":"g6","x":-400,"y":0},{"p":"g","k":"env","g":"g6","x":-454,"y":-43},{"p":"g","k":"env","g":"g6","x":-493,"y":-133},{"p":"g","k":"env","g":"g6","x":-488,"y":-223},{"p":"g","k":"env","g":"g6","x":-454,"y":-279},{"p":"g","k":"env","g":"g6","x":-416,"y":-290},{"p":"g","k":"env","g":"g6","x":-445,"y":-305},{"p":"g","k":"env","g":"g6","x":-470,"y":-320},{"p":"g","k":"env","g":"g6","x":-490,"y":-350},{"p":"g","k":"env","g":"g6","x":-500,"y":-390},{"p":"g","k":"env","g":"g6","x":-510,"y":-430},{"p":"g","k":"env","g":"g6","x":-525,"y":-470},{"p":"g","k":"env","g":"g6","x":-540,"y":-520},{"p":"g","k":"env","g":"g6","x":-556,"y":-565},{"p":"g","k":"env","g":"g6","x":-567,"y":-601},
{"p":"g","k":"link","g":"gw1","x":457,"y":137},{"p":"g","k":"link","g":"gw1","x":490,"y":137},
{"p":"g","k":"link","g":"gw2","x":468,"y":194},{"p":"g","k":"link","g":"gw2","x":497,"y":227},
{"p":"g","k":"link","g":"gw3","x":-493,"y":-126},{"p":"g","k":"link","g":"gw3","x":-448,"y":-126},
{"p":"g","k":"link","g":"gw4","x":-484,"y":-200},{"p":"g","k":"link","g":"gw4","x":-454,"y":-166}
]},
"vconcat":[
 {"hconcat":[
  {"width":326,"height":326,"transform":[{"filter":"datum.p=='a'"}],"title":{"text":"(a) 400 km","orient":"bottom","offset":24,"dx":-21},"resolve":{"axis":{"x":"independent","y":"independent"}},
   "layer":[
    {"mark":{"type":"line","strokeWidth":1,"clip":true},"encoding":{"x":{"field":"x","type":"quantitative","scale":{"domain":[-1100,1100],"nice":false,"zero":false},"axis":{"values":[-1000,-500,0,500,1000],"format":"d","title":"x [km]","labelPadding":6}},"y":{"field":"y","type":"quantitative","scale":{"domain":[-1100,1100],"nice":false,"zero":false},"axis":{"values":[-1000,-500,0,500,1000],"format":"d","title":"y [km]"}},"detail":{"field":"g"},"order":{"value":null},"color":{"field":"k","type":"nominal","scale":{"domain":["traj","est","env","link"],"range":["#0000ff","#000000","#bf00bf","#000000"]},"legend":null}}},
    {"transform":[{"filter":"datum.k=='est'"}],"mark":{"type":"point","filled":true,"size":7,"opacity":1,"clip":true},"encoding":{"x":{"field":"x","type":"quantitative","scale":{"domain":[-1100,1100],"nice":false,"zero":false},"axis":{"orient":"top","values":[-1000,-500,0,500,1000],"labels":false,"title":null,"grid":false}},"y":{"field":"y","type":"quantitative","scale":{"domain":[-1100,1100],"nice":false,"zero":false},"axis":{"orient":"right","values":[-1000,-500,0,500,1000],"labels":false,"title":null,"grid":false}},"color":{"field":"k","type":"nominal","scale":{"domain":["traj","est","env","link"],"range":["#0000ff","#000000","#bf00bf","#000000"]},"legend":null}}}
   ]},
  {"width":326,"height":326,"transform":[{"filter":"datum.p=='b'"}],"title":{"text":"(b) 500 km","orient":"bottom","offset":24,"dx":-21},"resolve":{"axis":{"x":"independent","y":"independent"}},
   "layer":[
    {"mark":{"type":"line","strokeWidth":1,"clip":true},"encoding":{"x":{"field":"x","type":"quantitative","scale":{"domain":[-1100,1100],"nice":false,"zero":false},"axis":{"values":[-1000,-500,0,500,1000],"format":"d","title":"x [km]","labelPadding":6}},"y":{"field":"y","type":"quantitative","scale":{"domain":[-1100,1100],"nice":false,"zero":false},"axis":{"values":[-1000,-500,0,500,1000],"format":"d","title":"y [km]"}},"detail":{"field":"g"},"order":{"value":null},"color":{"field":"k","type":"nominal","scale":{"domain":["traj","est","env","link"],"range":["#0000ff","#000000","#bf00bf","#000000"]},"legend":null}}},
    {"transform":[{"filter":"datum.k=='est'"}],"mark":{"type":"point","filled":true,"size":7,"opacity":1,"clip":true},"encoding":{"x":{"field":"x","type":"quantitative","scale":{"domain":[-1100,1100],"nice":false,"zero":false},"axis":{"orient":"top","values":[-1000,-500,0,500,1000],"labels":false,"title":null,"grid":false}},"y":{"field":"y","type":"quantitative","scale":{"domain":[-1100,1100],"nice":false,"zero":false},"axis":{"orient":"right","values":[-1000,-500,0,500,1000],"labels":false,"title":null,"grid":false}},"color":{"field":"k","type":"nominal","scale":{"domain":["traj","est","env","link"],"range":["#0000ff","#000000","#bf00bf","#000000"]},"legend":null}}}
   ]}
 ],"spacing":61,"bounds":"flush"},
 {"hconcat":[
  {"width":312,"height":312,"transform":[{"filter":"datum.p=='c'"}],"title":{"text":"(c) 540 km","orient":"bottom","offset":24,"dx":-21},"resolve":{"axis":{"x":"independent","y":"independent"}},
   "layer":[
    {"mark":{"type":"line","strokeWidth":1,"clip":true},"encoding":{"x":{"field":"x","type":"quantitative","scale":{"domain":[-1100,1100],"nice":false,"zero":false},"axis":{"values":[-1000,-500,0,500,1000],"format":"d","title":"x [km]","labelPadding":6}},"y":{"field":"y","type":"quantitative","scale":{"domain":[-1100,1100],"nice":false,"zero":false},"axis":{"values":[-1000,-500,0,500,1000],"format":"d","title":"y [km]"}},"detail":{"field":"g"},"order":{"value":null},"color":{"field":"k","type":"nominal","scale":{"domain":["traj","est","env","link"],"range":["#0000ff","#000000","#bf00bf","#000000"]},"legend":null}}},
    {"transform":[{"filter":"datum.k=='est'||datum.k=='traj'"}],"mark":{"type":"point","filled":true,"size":7,"opacity":1,"clip":true},"encoding":{"x":{"field":"x","type":"quantitative","scale":{"domain":[-1100,1100],"nice":false,"zero":false},"axis":{"orient":"top","values":[-1000,-500,0,500,1000],"labels":false,"title":null,"grid":false}},"y":{"field":"y","type":"quantitative","scale":{"domain":[-1100,1100],"nice":false,"zero":false},"axis":{"orient":"right","values":[-1000,-500,0,500,1000],"labels":false,"title":null,"grid":false}},"color":{"field":"k","type":"nominal","scale":{"domain":["traj","est","env","link"],"range":["#0000ff","#000000","#bf00bf","#000000"]},"legend":null}}}
   ]},
  {"width":312,"height":312,"transform":[{"filter":"datum.p=='d'"}],"title":{"text":"(d) 560 km","orient":"bottom","offset":24,"dx":-21},"resolve":{"axis":{"x":"independent","y":"independent"}},
   "layer":[
    {"mark":{"type":"line","strokeWidth":1,"clip":true},"encoding":{"x":{"field":"x","type":"quantitative","scale":{"domain":[-1100,1100],"nice":false,"zero":false},"axis":{"values":[-1000,-500,0,500,1000],"format":"d","title":"x [km]","labelPadding":6}},"y":{"field":"y","type":"quantitative","scale":{"domain":[-1100,1100],"nice":false,"zero":false},"axis":{"values":[-1000,-500,0,500,1000],"format":"d","title":"y [km]"}},"detail":{"field":"g"},"order":{"value":null},"color":{"field":"k","type":"nominal","scale":{"domain":["traj","est","env","link"],"range":["#0000ff","#000000","#bf00bf","#000000"]},"legend":null}}},
    {"transform":[{"filter":"datum.k=='est'||datum.k=='traj'"}],"mark":{"type":"point","filled":true,"size":7,"opacity":1,"clip":true},"encoding":{"x":{"field":"x","type":"quantitative","scale":{"domain":[-1100,1100],"nice":false,"zero":false},"axis":{"orient":"top","values":[-1000,-500,0,500,1000],"labels":false,"title":null,"grid":false}},"y":{"field":"y","type":"quantitative","scale":{"domain":[-1100,1100],"nice":false,"zero":false},"axis":{"orient":"right","values":[-1000,-500,0,500,1000],"labels":false,"title":null,"grid":false}},"color":{"field":"k","type":"nominal","scale":{"domain":["traj","est","env","link"],"range":["#0000ff","#000000","#bf00bf","#000000"]},"legend":null}}}
   ]},
  {"width":312,"height":312,"transform":[{"filter":"datum.p=='e'"}],"title":{"text":"(e) 600 km","orient":"bottom","offset":24,"dx":-21},"resolve":{"axis":{"x":"independent","y":"independent"}},
   "layer":[
    {"mark":{"type":"line","strokeWidth":1,"clip":true},"encoding":{"x":{"field":"x","type":"quantitative","scale":{"domain":[-1100,1100],"nice":false,"zero":false},"axis":{"values":[-1000,-500,0,500,1000],"format":"d","title":"x [km]","labelPadding":6}},"y":{"field":"y","type":"quantitative","scale":{"domain":[-1100,1100],"nice":false,"zero":false},"axis":{"values":[-1000,-500,0,500,1000],"format":"d","title":"y [km]"}},"detail":{"field":"g"},"order":{"value":null},"color":{"field":"k","type":"nominal","scale":{"domain":["traj","est","env","link"],"range":["#0000ff","#000000","#bf00bf","#000000"]},"legend":null}}},
    {"transform":[{"filter":"datum.k=='est'||datum.k=='traj'"}],"mark":{"type":"point","filled":true,"size":7,"opacity":1,"clip":true},"encoding":{"x":{"field":"x","type":"quantitative","scale":{"domain":[-1100,1100],"nice":false,"zero":false},"axis":{"orient":"top","values":[-1000,-500,0,500,1000],"labels":false,"title":null,"grid":false}},"y":{"field":"y","type":"quantitative","scale":{"domain":[-1100,1100],"nice":false,"zero":false},"axis":{"orient":"right","values":[-1000,-500,0,500,1000],"labels":false,"title":null,"grid":false}},"color":{"field":"k","type":"nominal","scale":{"domain":["traj","est","env","link"],"range":["#0000ff","#000000","#bf00bf","#000000"]},"legend":null}}}
   ]}
 ],"spacing":60,"bounds":"flush"},
 {"hconcat":[
  {"width":326,"height":326,"transform":[{"filter":"datum.p=='f'"}],"title":{"text":"(f) 700 km","orient":"bottom","offset":24,"dx":-21},"resolve":{"axis":{"x":"independent","y":"independent"}},
   "layer":[
    {"mark":{"type":"line","strokeWidth":1,"clip":true},"encoding":{"x":{"field":"x","type":"quantitative","scale":{"domain":[-1100,1100],"nice":false,"zero":false},"axis":{"values":[-1000,-500,0,500,1000],"format":"d","title":"x [km]","labelPadding":6}},"y":{"field":"y","type":"quantitative","scale":{"domain":[-1100,1100],"nice":false,"zero":false},"axis":{"values":[-1000,-500,0,500,1000],"format":"d","title":"y [km]"}},"detail":{"field":"g"},"order":{"value":null},"color":{"field":"k","type":"nominal","scale":{"domain":["traj","est","env","link"],"range":["#0000ff","#000000","#bf00bf","#000000"]},"legend":null}}},
    {"transform":[{"filter":"datum.k=='est'||datum.k=='traj'"}],"mark":{"type":"point","filled":true,"size":7,"opacity":1,"clip":true},"encoding":{"x":{"field":"x","type":"quantitative","scale":{"domain":[-1100,1100],"nice":false,"zero":false},"axis":{"orient":"top","values":[-1000,-500,0,500,1000],"labels":false,"title":null,"grid":false}},"y":{"field":"y","type":"quantitative","scale":{"domain":[-1100,1100],"nice":false,"zero":false},"axis":{"orient":"right","values":[-1000,-500,0,500,1000],"labels":false,"title":null,"grid":false}},"color":{"field":"k","type":"nominal","scale":{"domain":["traj","est","env","link"],"range":["#0000ff","#000000","#bf00bf","#000000"]},"legend":null}}}
   ]},
  {"width":326,"height":326,"transform":[{"filter":"datum.p=='g'"}],"title":{"text":"(g) 800 km","orient":"bottom","offset":24,"dx":-21},"resolve":{"axis":{"x":"independent","y":"independent"}},
   "layer":[
    {"mark":{"type":"line","strokeWidth":1,"clip":true},"encoding":{"x":{"field":"x","type":"quantitative","scale":{"domain":[-1100,1100],"nice":false,"zero":false},"axis":{"values":[-1000,-500,0,500,1000],"format":"d","title":"x [km]","labelPadding":6}},"y":{"field":"y","type":"quantitative","scale":{"domain":[-1100,1100],"nice":false,"zero":false},"axis":{"values":[-1000,-500,0,500,1000],"format":"d","title":"y [km]"}},"detail":{"field":"g"},"order":{"value":null},"color":{"field":"k","type":"nominal","scale":{"domain":["traj","est","env","link"],"range":["#0000ff","#000000","#bf00bf","#000000"]},"legend":null}}},
    {"transform":[{"filter":"datum.k=='est'||datum.k=='traj'"}],"mark":{"type":"point","filled":true,"size":7,"opacity":1,"clip":true},"encoding":{"x":{"field":"x","type":"quantitative","scale":{"domain":[-1100,1100],"nice":false,"zero":false},"axis":{"orient":"top","values":[-1000,-500,0,500,1000],"labels":false,"title":null,"grid":false}},"y":{"field":"y","type":"quantitative","scale":{"domain":[-1100,1100],"nice":false,"zero":false},"axis":{"orient":"right","values":[-1000,-500,0,500,1000],"labels":false,"title":null,"grid":false}},"color":{"field":"k","type":"nominal","scale":{"domain":["traj","est","env","link"],"range":["#0000ff","#000000","#bf00bf","#000000"]},"legend":null}}}
   ]}
 ],"spacing":61,"bounds":"flush"}
],
"spacing":23,"center":true
}
